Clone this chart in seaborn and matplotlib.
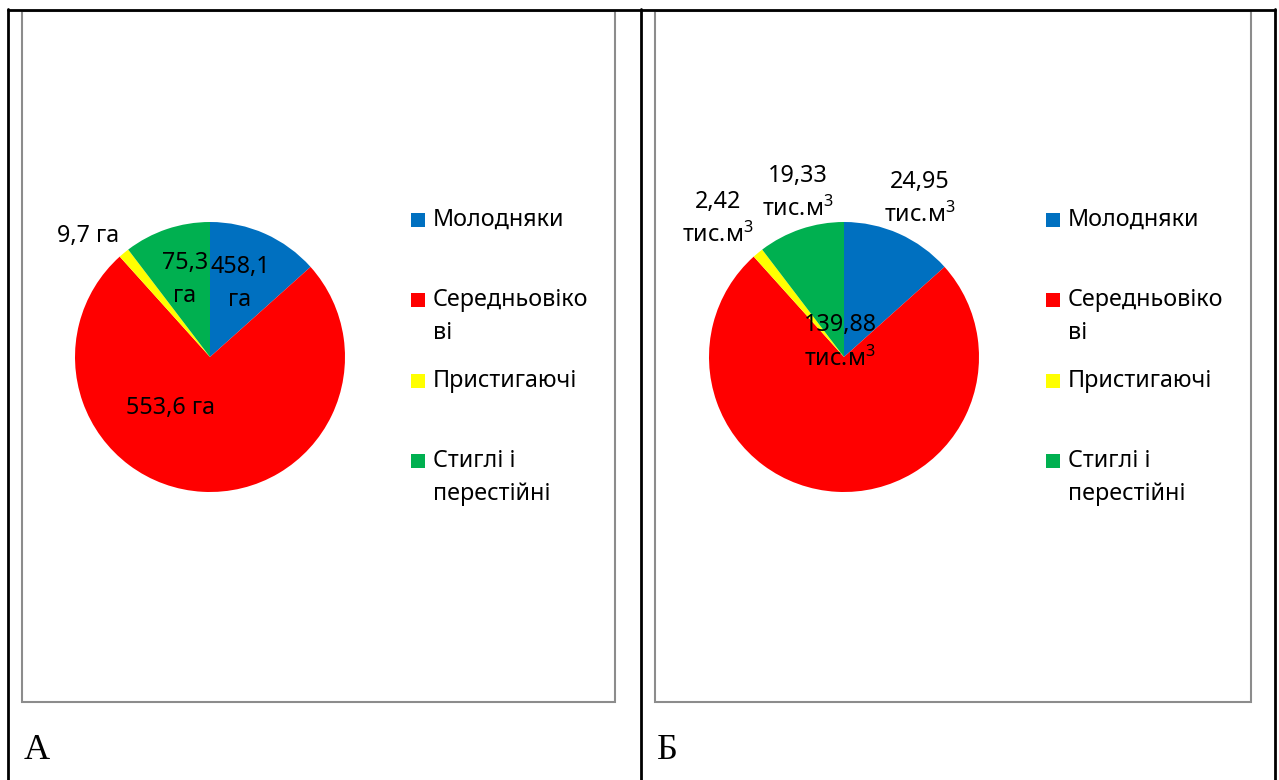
import numpy as np
import matplotlib
matplotlib.use("Agg")
import matplotlib.pyplot as plt
from matplotlib.patches import Rectangle
from matplotlib.lines import Line2D
import seaborn as sns

# ---- data ----
categories = ["Молодняки", "Середньовікові", "Пристигаючі", "Стиглі і перестійні"]
legend_labels = ["Молодняки", "Середньовіко\nві", "Пристигаючі", "Стиглі і\nперестійні"]
volume_values = [24.95, 139.88, 2.42, 19.33]      # тис. м3 (slice sizes in both charts)
area_values = [458.1, 553.6, 9.7, 75.3]           # га (labels of chart A)
area_sep = ["\n", " ", " ", "\n"]
colors = ["#0070C0", "#FF0000", "#FFFF00", "#00B050"]
panel_letters = ["А", "Б"]

sns.set_theme(style="white")
plt.rcParams["font.family"] = ["Noto Sans", "DejaVu Sans"]
plt.rcParams["mathtext.fontset"] = "custom"
plt.rcParams["mathtext.rm"] = "Noto Sans"
plt.rcParams["mathtext.it"] = "Noto Sans"
plt.rcParams["mathtext.bf"] = "Noto Sans"

W, H = 1279, 780
fig = plt.figure(figsize=(W / 100, H / 100), dpi=100)
fig.patch.set_facecolor("white")


def fx(x):
    return x / W


def fy(y):
    return 1 - y / H


# outer table lines
for x in (8, 641, 1275):
    fig.add_artist(Line2D([fx(x), fx(x)], [fy(9), fy(780)], color="black", lw=2,
                          transform=fig.transFigure))
fig.add_artist(Line2D([fx(8), fx(1275)], [fy(10), fy(10)], color="black", lw=2,
                      transform=fig.transFigure))

# chart frames
for (x0, x1) in ((22, 615), (655, 1251)):
    fig.add_artist(Rectangle((fx(x0), fy(702)), fx(x1 - x0), (702 - 11) / H,
                             fill=False, edgecolor="#8c8c8c", lw=1.5,
                             transform=fig.transFigure))

R = 135
FS = 16.8
LS = 1.5


def make_pie(cx, cy, labels, label_pos):
    ax = fig.add_axes([fx(cx - 150), fy(cy + 150), 300 / W, 300 / H])
    ax.pie(volume_values, colors=colors, startangle=90, counterclock=False,
           radius=1.0, wedgeprops=dict(linewidth=0))
    ax.set_xlim(-150 / R, 150 / R)
    ax.set_ylim(-150 / R, 150 / R)
    ax.set_aspect("equal")
    ax.axis("off")
    for lab, (px, py) in zip(labels, label_pos):
        ax.text(px / R, py / R, lab, ha="center", va="center", fontsize=FS,
                linespacing=LS, color="black", clip_on=False)
    return ax


labels_a = [f"{v:.1f}".replace(".", ",") + s + "га" for v, s in zip(area_values, area_sep)]
pos_a = [(30, 73), (-40, -51), (-122, 121), (-25, 77)]
make_pie(210, 357, labels_a, pos_a)

labels_b = [f"{v:.2f}".replace(".", ",") + "\nтис.м$^{3}$" for v in volume_values]
pos_b = [(76, 158), (-4, 15), (-126, 138), (-46, 164)]
make_pie(844, 357, labels_b, pos_b)

# legends
rows_first = [220, 300, 381, 461]
nlines = [lab.count("\n") + 1 for lab in legend_labels]
for sq_x, tx_x in ((411, 433), (1046, 1068)):
    for lab, c, y, n in zip(legend_labels, colors, rows_first, nlines):
        fig.add_artist(Rectangle((fx(sq_x), fy(y + 7)), 14 / W, 14 / H,
                                 facecolor=c, edgecolor="none",
                                 transform=fig.transFigure))
        yc = y + (n - 1) * 33 / 2
        fig.text(fx(tx_x), fy(yc), lab, ha="left", va="center", fontsize=FS,
                 linespacing=LS, color="black")

# panel letters
for x, letter in ((24, panel_letters[0]), (657, panel_letters[1])):
    fig.text(fx(x), fy(759), letter, ha="left", va="baseline", fontsize=26,
             family=["Liberation Serif", "DejaVu Serif"], color="black")

fig.savefig("out.png", dpi=100, facecolor="white")
